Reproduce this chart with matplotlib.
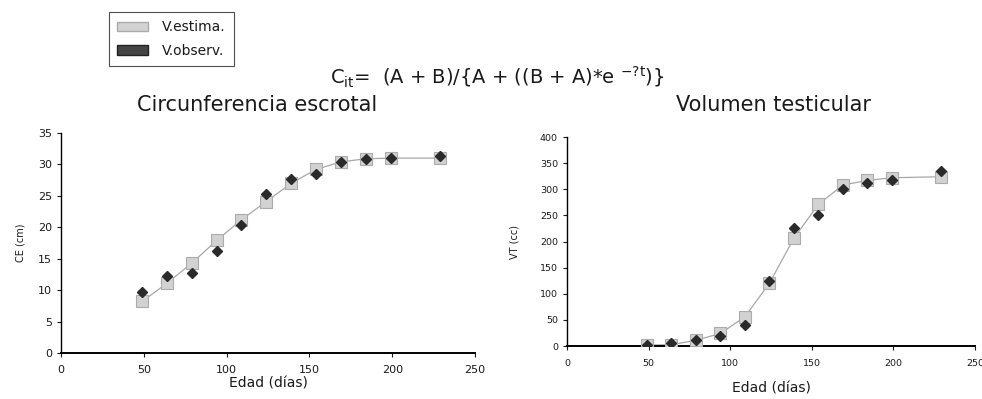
import matplotlib
matplotlib.use("Agg")
import matplotlib.pyplot as plt
from matplotlib.patches import Patch

plt.rcParams['font.family'] = ['DejaVu Sans']
plt.rcParams['mathtext.fontset'] = 'dejavusans'

edad = [49, 64, 79, 94, 109, 124, 139, 154, 169, 184, 199, 229]
ce_estim = [8.2, 11.1, 14.3, 17.9, 21.2, 24.1, 27.0, 29.2, 30.4, 30.9, 31.0, 31.0]
ce_obs = [9.7, 12.2, 12.7, 16.2, 20.4, 25.3, 27.7, 28.5, 30.4, 30.9, 31.1, 31.4]
vt_estim = [2, 2.5, 11, 24, 56, 120, 206, 271, 308, 317, 322, 324]
vt_obs = [2, 5, 11.5, 19, 41, 125, 225, 250, 301, 312, 317, 335]

x_ticks = [0, 50, 100, 150, 200, 250]
ce_ticks = [0, 5, 10, 15, 20, 25, 30, 35]
vt_ticks = [0, 50, 100, 150, 200, 250, 300, 350, 400]

fig = plt.figure(figsize=(9.82, 3.99), dpi=100)

est_face = '#d2d2d2'
est_edge = '#ababab'
obs_col = '#2a2a2a'
txt_col = '#1a1a1a'

def style(ax, yticks, ylabel, ticksize, xpad, xlabpad, ylabpad):
    ax.spines['top'].set_visible(False)
    ax.spines['right'].set_visible(False)
    ax.spines['left'].set_linewidth(1.0)
    ax.spines['bottom'].set_linewidth(1.4)
    ax.set_xlim(0, 250)
    ax.set_ylim(0, yticks[-1])
    ax.set_xticks(x_ticks)
    ax.set_yticks(yticks)
    ax.tick_params(axis='both', direction='out', length=3, width=0.8,
                   labelsize=ticksize, colors=txt_col)
    ax.tick_params(axis='x', pad=xpad)
    ax.set_ylabel(ylabel, fontsize=7, color=txt_col, labelpad=ylabpad)
    ax.set_xlabel('Edad (días)', fontsize=10, color=txt_col, labelpad=xlabpad)

def draw(ax, est, obs):
    ax.plot(edad, est, color='#a8a8a8', lw=0.9, zorder=2)
    ax.plot(edad, est, ls='none', marker='s', ms=8, mfc=est_face, mec=est_edge,
            mew=0.8, zorder=3)
    ax.plot(edad, obs, ls='none', marker='D', ms=5, mfc=obs_col, mec=obs_col, zorder=4)

ax1 = fig.add_axes([0.0621, 0.1153, 0.4216, 0.5514])
draw(ax1, ce_estim, ce_obs)
style(ax1, ce_ticks, 'CE (cm)', 8, 6, 1, 9)

ax2 = fig.add_axes([0.5774, 0.1328, 0.4155, 0.5238])
draw(ax2, vt_estim, vt_obs)
style(ax2, vt_ticks, 'VT (cc)', 6.8, 6, 10, 15)

fig.text(0.262, 0.722, 'Circunferencia escrotal', fontsize=15, ha='center',
         va='baseline', color=txt_col)
fig.text(0.788, 0.722, 'Volumen testicular', fontsize=15, ha='center',
         va='baseline', color=txt_col)
fig.text(0.336, 0.79, r'C$_{\mathrm{it}}$=  (A + B)/{A + ((B + A)*e $^{\mathrm{-?t}}$)}',
         fontsize=14, ha='left', va='baseline', color=txt_col)

handles = [Patch(facecolor=est_face, edgecolor=est_edge, label='V.estima.'),
           Patch(facecolor='#444444', edgecolor='#222222', label='V.observ.')]
leg = fig.legend(handles=handles, loc='upper left', bbox_to_anchor=(0.111, 0.97),
                 fontsize=10, frameon=True, fancybox=False, edgecolor='#222222',
                 handlelength=2.2, handleheight=0.7, handletextpad=1.0,
                 borderpad=0.6, labelspacing=0.7, borderaxespad=0)
leg.get_frame().set_linewidth(0.8)
for t in leg.get_texts():
    t.set_color(txt_col)

fig.savefig('out.png', dpi=100)
